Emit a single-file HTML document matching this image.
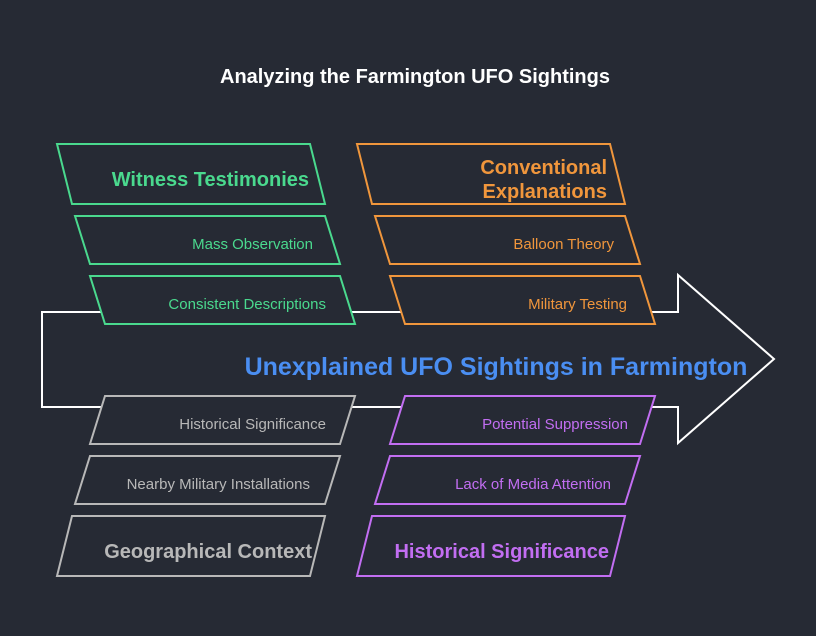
<!DOCTYPE html>
<html><head><meta charset="utf-8"><style>
html,body{margin:0;padding:0;background:#262a34;}
svg{display:block;font-family:"Liberation Sans",Arial,sans-serif;}
</style></head><body>
<svg width="816" height="636" viewBox="0 0 816 636">
<rect width="816" height="636" fill="#262a34"/>
<text x="415" y="83" text-anchor="middle" font-size="20" font-weight="bold" fill="#ffffff">Analyzing the Farmington UFO Sightings</text>
<polygon points="42,312 678,312 678,275 774,359 678,443 678,407 42,407" fill="none" stroke="#ffffff" stroke-width="2"/>
<text x="496" y="375" text-anchor="middle" font-size="25" font-weight="bold" fill="#4a8ef2">Unexplained UFO Sightings in Farmington</text>

<g stroke-width="2" fill="#262a34">
<g stroke="#4ad98e">
<polygon points="57,144 310,144 325,204 72,204"/>
<polygon points="75,216 325,216 340,264 90,264"/>
<polygon points="90,276 340,276 355,324 105,324"/>
</g>
<g stroke="#f0963c">
<polygon points="357,144 610,144 625,204 372,204"/>
<polygon points="375,216 625,216 640,264 390,264"/>
<polygon points="390,276 640,276 655,324 405,324"/>
</g>
<g stroke="#b8b8b8">
<polygon points="105,396 355,396 340,444 90,444"/>
<polygon points="90,456 340,456 325,504 75,504"/>
<polygon points="72,516 325,516 310,576 57,576"/>
</g>
<g stroke="#c26ef2">
<polygon points="405,396 655,396 640,444 390,444"/>
<polygon points="390,456 640,456 625,504 375,504"/>
<polygon points="372,516 625,516 610,576 357,576"/>
</g>
</g>

<g text-anchor="end">
<text x="309" y="186" font-size="20" font-weight="bold" fill="#4ad98e">Witness Testimonies</text>
<text x="313" y="249" font-size="15" fill="#4ad98e">Mass Observation</text>
<text x="326" y="309" font-size="15" fill="#4ad98e">Consistent Descriptions</text>
<text x="607" y="174" font-size="20" font-weight="bold" fill="#f0963c">Conventional</text>
<text x="607" y="198" font-size="20" font-weight="bold" fill="#f0963c">Explanations</text>
<text x="614" y="249" font-size="15" fill="#f0963c">Balloon Theory</text>
<text x="627" y="309" font-size="15" fill="#f0963c">Military Testing</text>
<text x="326" y="429" font-size="15" fill="#b8b8b8">Historical Significance</text>
<text x="310" y="489" font-size="15" fill="#b8b8b8">Nearby Military Installations</text>
<text x="312" y="558" font-size="20" font-weight="bold" fill="#b8b8b8">Geographical Context</text>
<text x="628" y="429" font-size="15" fill="#c26ef2">Potential Suppression</text>
<text x="611" y="489" font-size="15" fill="#c26ef2">Lack of Media Attention</text>
<text x="609" y="558" font-size="20" font-weight="bold" fill="#c26ef2">Historical Significance</text>
</g>
</svg>
</body></html>
